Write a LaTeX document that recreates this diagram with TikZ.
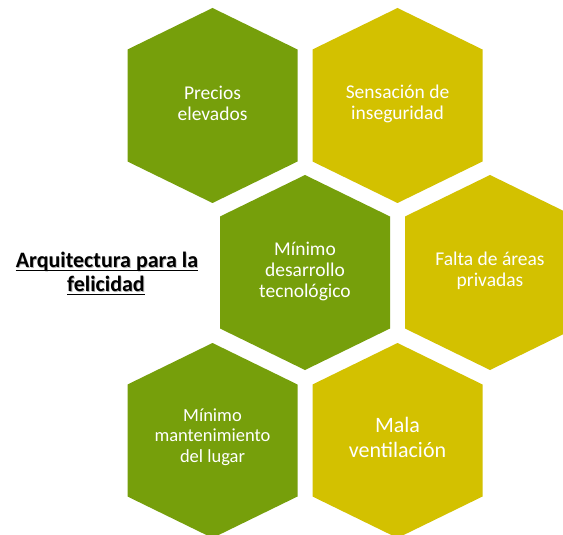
\documentclass[tikz,border=0pt]{standalone}
\usepackage{fontspec}
\setmainfont{Carlito}
\definecolor{hexgreen}{RGB}{118,159,11}
\definecolor{hexyellow}{RGB}{211,193,0}
\tikzset{
  hexlabel/.style={text=white, align=center, font=\fontsize{19.5bp}{21bp}\selectfont, inner sep=0pt},
  titletext/.style={font=\fontsize{22bp}{24bp}\selectfont\bfseries, inner sep=0pt, anchor=base},
  ulinestyle/.style={line width=1.3bp},
}
\newcommand\hexshape[2]{%
  \fill[#1, shift={(#2)}] (0,-97.5) -- (85,-56) -- (85,56) -- (0,97.5) -- (-85,56) -- (-85,-56) -- cycle;}
\begin{document}
\begin{tikzpicture}[x=1bp,y=-1bp]
\clip (0,0) rectangle (563,535);
\fill[white] (0,0) rectangle (563,535);
% hexagons
\hexshape{hexgreen}{212.5,105.5}
\hexshape{hexyellow}{397.5,105.5}
\hexshape{hexgreen}{305,272.5}
\hexshape{hexyellow}{490,272.5}
\hexshape{hexgreen}{212.5,440.5}
\hexshape{hexyellow}{397.5,440.5}
% labels
\node[hexlabel] (h1) at (212.5,103.5) {Precios\\elevados};
\node[hexlabel] (h2) at (397.5,103.5) {Sensación de\\inseguridad};
\node[hexlabel] (h3) at (305,271) {Mínimo\\desarrollo\\tecnológico};
\node[hexlabel] (h4) at (490,271) {Falta de áreas\\privadas};
\node[hexlabel, font=\fontsize{18.5bp}{20.5bp}\selectfont] (h5) at (212.5,437) {Mínimo\\mantenimiento\\del lugar};
\node[hexlabel, font=\fontsize{22bp}{25bp}\selectfont] (h6) at (397.5,437) {Mala\\ventilación};
% title
\node[titletext, black!30] (s1) at (107.8,268.5) {Arquitectura para la};
\node[titletext, black!30] (s2) at (106.8,292.5) {felicidad};
\node[titletext] (t1) at (107,267.7) {Arquitectura para la};
\node[titletext] (t2) at (106,291.7) {felicidad};
\draw[ulinestyle] ([yshift=-3bp]t1.base west) -- ([yshift=-3bp]t1.base east);
\draw[ulinestyle] ([yshift=-3bp]t2.base west) -- ([yshift=-3bp]t2.base east);
\end{tikzpicture}
\end{document}
